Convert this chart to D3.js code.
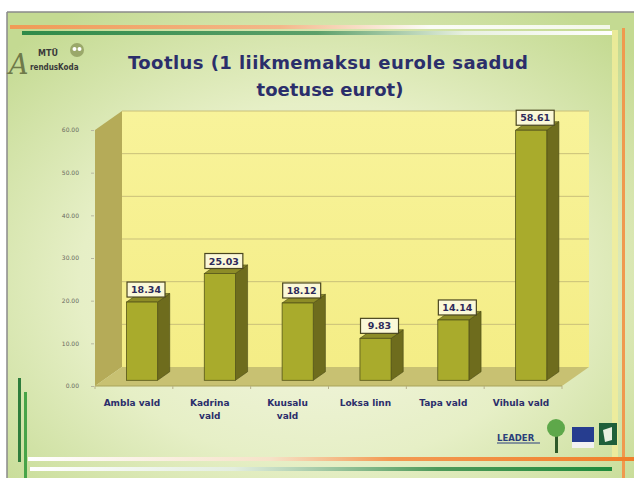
<!DOCTYPE html>
<html><head><meta charset="utf-8">
<script src="https://cdn.jsdelivr.net/npm/d3@7"></script>
<style>html,body{margin:0;padding:0;background:#fff;}svg{display:block;}</style>
</head><body>
<script>
const categories = [["Ambla vald"], ["Kadrina", "vald"], ["Kuusalu", "vald"], ["Loksa linn"], ["Tapa vald"], ["Vihula vald"]];
const values = [18.34, 25.03, 18.12, 9.83, 14.14, 58.61];
const valueLabels = ["18.34", "25.03", "18.12", "9.83", "14.14", "58.61"];
const ticks = [0, 10, 20, 30, 40, 50, 60];
const tickLabels = ["0.00", "10.00", "20.00", "30.00", "40.00", "50.00", "60.00"];
const titleLines = ["Tootlus (1 liikmemaksu eurole saadud", "toetuse eurot)"];

const W = 634, H = 478;
const svg = d3.select("body").append("svg").attr("width", W).attr("height", H);
const defs = svg.append("defs");

// background
const bg = defs.append("radialGradient").attr("id", "bg").attr("cx", "50%").attr("cy", "58%").attr("r", "70%");
bg.append("stop").attr("offset", "0%").attr("stop-color", "#f6f7e6");
bg.append("stop").attr("offset", "55%").attr("stop-color", "#e6efc6");
bg.append("stop").attr("offset", "100%").attr("stop-color", "#c4da92");
svg.append("rect").attr("width", W).attr("height", H).attr("fill", "#fff");
svg.append("rect").attr("x", 7).attr("y", 12).attr("width", W - 7).attr("height", H - 12).attr("fill", "url(#bg)");
svg.append("line").attr("x1", 7).attr("x2", W).attr("y1", 12).attr("y2", 12).attr("stroke", "#8a8a8a").attr("stroke-width", 1.5);
svg.append("line").attr("x1", 7).attr("x2", 7).attr("y1", 12).attr("y2", H).attr("stroke", "#8a8a8a").attr("stroke-width", 1.5);

function lg(id, stops) {
  const g = defs.append("linearGradient").attr("id", id);
  stops.forEach(s => g.append("stop").attr("offset", s[0]).attr("stop-color", s[1]).attr("stop-opacity", s[2] == null ? 1 : s[2]));
}
lg("topOrange", [["0%", "#f09a55"], ["45%", "#f3b88a"], ["70%", "#ffffff", 0.9], ["100%", "#ffffff", 0.8]]);
lg("topGreen", [["0%", "#2f8a48"], ["50%", "#5da06a"], ["75%", "#e8f0e0"], ["100%", "#ffffff"]]);
lg("botOrange", [["0%", "#ffffff"], ["40%", "#f6e2c8"], ["60%", "#f39a52"], ["100%", "#f07f2a"]]);
lg("botGreen", [["0%", "#ffffff"], ["35%", "#e3eee0"], ["70%", "#4f9a5a"], ["100%", "#1f8a3c"]]);

svg.append("rect").attr("x", 10).attr("y", 25).attr("width", 600).attr("height", 4).attr("fill", "url(#topOrange)");
svg.append("rect").attr("x", 22).attr("y", 31).attr("width", 590).attr("height", 4).attr("fill", "url(#topGreen)");
svg.append("rect").attr("x", 612).attr("y", 30).attr("width", 6).attr("height", 430).attr("fill", "#f3ee9a").attr("opacity", 0.8);
svg.append("rect").attr("x", 622).attr("y", 28).attr("width", 3).attr("height", 450).attr("fill", "#f0994e");
svg.append("rect").attr("x", 18).attr("y", 378).attr("width", 3).attr("height", 84).attr("fill", "#2e7d3c");
svg.append("rect").attr("x", 24).attr("y", 392).attr("width", 3).attr("height", 86).attr("fill", "#47a448");
svg.append("rect").attr("x", 28).attr("y", 457).attr("width", 606).attr("height", 4).attr("fill", "url(#botOrange)");
svg.append("rect").attr("x", 30).attr("y", 467).attr("width", 582).attr("height", 4).attr("fill", "url(#botGreen)");

// logo top-left
const logo = svg.append("g");
logo.append("text").attr("x", 9).attr("y", 74).attr("font-family", "DejaVu Serif").attr("font-style", "italic")
  .attr("font-size", 27).attr("fill", "#6f7a4a").text("A");
logo.append("text").attr("x", 38).attr("y", 56).attr("font-family", "DejaVu Sans").attr("font-weight", "bold")
  .attr("font-size", 8).attr("fill", "#3a3a3a").text("MTÜ");
logo.append("text").attr("x", 30).attr("y", 70).attr("font-family", "DejaVu Sans Condensed").attr("font-weight", "bold")
  .attr("font-size", 8).attr("fill", "#3a3a3a").text("rendusKoda");
logo.append("ellipse").attr("cx", 77).attr("cy", 50).attr("rx", 7).attr("ry", 7).attr("fill", "#9aa86a");
logo.append("circle").attr("cx", 74.5).attr("cy", 49).attr("r", 2).attr("fill", "#fff");
logo.append("circle").attr("cx", 79.5).attr("cy", 49).attr("r", 2).attr("fill", "#fff");

// title
svg.append("text").attr("x", 328).attr("y", 69).attr("text-anchor", "middle").attr("font-family", "DejaVu Sans")
  .attr("font-weight", "bold").attr("font-size", 18).attr("fill", "#2b2e6b").attr("textLength", 400).text(titleLines[0]);
svg.append("text").attr("x", 330).attr("y", 96).attr("text-anchor", "middle").attr("font-family", "DejaVu Sans")
  .attr("font-weight", "bold").attr("font-size", 18).attr("fill", "#2b2e6b").text(titleLines[1]);

// 3D chart geometry
const x0 = 95, x1 = 562, DX = 27, DY = -19;
const y = d3.scaleLinear().domain([0, 60]).range([386, 130]);
const xb = d3.scaleBand().domain(d3.range(values.length)).range([x0, x1]).paddingInner(0.6).paddingOuter(0.3);

const wallG = defs.append("linearGradient").attr("id", "wall").attr("x1", 0).attr("y1", 0).attr("x2", 0).attr("y2", 1);
wallG.append("stop").attr("offset", "0%").attr("stop-color", "#f8f39a");
wallG.append("stop").attr("offset", "100%").attr("stop-color", "#f4ed86");
const poly = pts => pts.map(p => p.join(",")).join(" ");

// back wall
svg.append("polygon").attr("points", poly([[x0 + DX, y(60) + DY], [x1 + DX, y(60) + DY], [x1 + DX, y(0) + DY], [x0 + DX, y(0) + DY]]))
  .attr("fill", "url(#wall)");
// side wall
svg.append("polygon").attr("points", poly([[x0, y(60)], [x0 + DX, y(60) + DY], [x0 + DX, y(0) + DY], [x0, y(0)]]))
  .attr("fill", "#b5ab58");
// gridlines on back
ticks.slice(1).forEach(t => {
  svg.append("line").attr("x1", x0 + DX).attr("x2", x1 + DX).attr("y1", y(t) + DY).attr("y2", y(t) + DY)
    .attr("stroke", "#c9c07a").attr("stroke-width", 1);
});
// floor
svg.append("polygon").attr("points", poly([[x0, y(0)], [x1, y(0)], [x1 + DX, y(0) + DY], [x0 + DX, y(0) + DY]]))
  .attr("fill", "#c8c172");
svg.append("line").attr("x1", x0).attr("x2", x1).attr("y1", y(0)).attr("y2", y(0)).attr("stroke", "#a9a35a").attr("stroke-width", 1);
d3.range(values.length + 1).forEach(i => {
  const xx = x0 + i * xb.step();
  svg.append("line").attr("x1", xx).attr("x2", xx).attr("y1", y(0)).attr("y2", y(0) + 3).attr("stroke", "#b5b08a");
});

// y-axis tick labels
const axisG = svg.append("g").attr("transform", "translate(" + (x0 - 1) + ",0)")
  .call(d3.axisLeft(y).tickValues(ticks).tickFormat((d, i) => tickLabels[i]).tickSize(3).tickPadding(12));
axisG.select(".domain").remove();
axisG.selectAll("line").attr("stroke", "#b8b8a0");
axisG.selectAll("text").attr("font-family", "DejaVu Sans").attr("font-size", 6).attr("fill", "#6a6a60");

// bars
const f0 = 0.3, f1 = 0.75;
const bars = svg.append("g");
values.forEach((v, i) => {
  const bx = xb(i) + f0 * DX, w = xb.bandwidth();
  const yb = y(0) + f0 * DY, yt = y(v) + f0 * DY;
  const ddx = (f1 - f0) * DX, ddy = (f1 - f0) * DY;
  const g = bars.append("g");
  g.append("polygon").attr("points", poly([[bx + w, yt], [bx + w + ddx, yt + ddy], [bx + w + ddx, yb + ddy], [bx + w, yb]]))
    .attr("fill", "#6e6c1d").attr("stroke", "#4a4a14").attr("stroke-width", 0.6);
  g.append("polygon").attr("points", poly([[bx, yt], [bx + ddx, yt + ddy], [bx + w + ddx, yt + ddy], [bx + w, yt]]))
    .attr("fill", "#8d8c27").attr("stroke", "#4a4a14").attr("stroke-width", 0.6);
  g.append("rect").attr("x", bx).attr("y", yt).attr("width", w).attr("height", yb - yt)
    .attr("fill", "#a9ab2c").attr("stroke", "#55551a").attr("stroke-width", 0.8);
  const cx = bx + w / 2 + 4, bw = 38, bh = 15;
  g.append("rect").attr("x", cx - bw / 2).attr("y", yt - 20).attr("width", bw).attr("height", bh)
    .attr("fill", "#fbf8d8").attr("stroke", "#4a4620").attr("stroke-width", 1.2);
  g.append("text").attr("x", cx).attr("y", yt - 9).attr("text-anchor", "middle").attr("font-family", "DejaVu Sans")
    .attr("font-weight", "bold").attr("font-size", 9.5).attr("fill", "#2e2a5a").text(valueLabels[i]);
});

// category labels
categories.forEach((lines, i) => {
  const cx = x0 + (i + 0.5) * xb.step() - 2;
  const t = svg.append("text").attr("text-anchor", "middle").attr("font-family", "DejaVu Sans").attr("font-weight", "bold")
    .attr("font-size", 9).attr("fill", "#2b2e6b");
  lines.forEach((l, j) => t.append("tspan").attr("x", cx).attr("y", 406 + j * 13).text(l));
});

// bottom-right logos
const lb = svg.append("g");
lb.append("text").attr("x", 497).attr("y", 441).attr("font-family", "DejaVu Sans").attr("font-weight", "bold")
  .attr("font-size", 8.5).attr("fill", "#2a3f7a").text("LEADER");
lb.append("line").attr("x1", 497).attr("x2", 540).attr("y1", 443).attr("y2", 443).attr("stroke", "#2a3f7a").attr("stroke-width", 1);
lb.append("rect").attr("x", 555).attr("y", 434).attr("width", 3).attr("height", 19).attr("fill", "#2f5a2a");
lb.append("circle").attr("cx", 556).attr("cy", 428).attr("r", 9).attr("fill", "#5ea84a");
lb.append("rect").attr("x", 572).attr("y", 427).attr("width", 22).attr("height", 15).attr("fill", "#263d8f");
lb.append("rect").attr("x", 572).attr("y", 442).attr("width", 22).attr("height", 6).attr("fill", "#f2f2f2");
lb.append("rect").attr("x", 599).attr("y", 423).attr("width", 18).attr("height", 22).attr("fill", "#1f5f3a");
lb.append("path").attr("d", "M603,430 L612,427 L612,440 L605,442 Z").attr("fill", "#e8efe0");
</script>
</body></html>
